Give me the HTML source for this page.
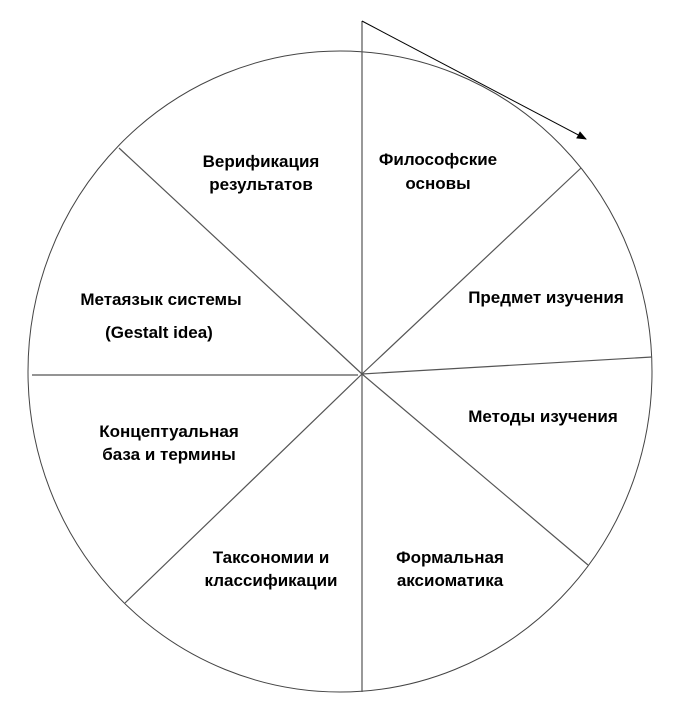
<!DOCTYPE html>
<html><head><meta charset="utf-8"><style>html,body{margin:0;padding:0;background:#fff}</style></head>
<body>
<svg width="685" height="712" xmlns="http://www.w3.org/2000/svg" style="display:block">
<defs><marker id="ah" markerWidth="10" markerHeight="8" refX="9" refY="4" orient="auto" markerUnits="userSpaceOnUse"><path d="M0,0 L10,4 L0,8 z" fill="#000"/></marker></defs>
<ellipse cx="340" cy="371.5" rx="312" ry="320.5" fill="none" stroke="#444" stroke-width="1"/>
<g stroke="#555" stroke-width="1.2" fill="none">
<line x1="362" y1="21" x2="362" y2="692"/>
<line x1="362" y1="374" x2="119" y2="148"/>
<line x1="362" y1="374" x2="581" y2="168"/>
<line x1="362" y1="374" x2="652" y2="357"/>
<line x1="358" y1="375" x2="32" y2="375"/>
<line x1="362" y1="374" x2="125" y2="603"/>
<line x1="362" y1="374" x2="588" y2="565"/>
</g>
<line x1="362" y1="21" x2="586" y2="139" stroke="#000" stroke-width="1" marker-end="url(#ah)"/>
<g font-family="Liberation Sans, Arial, sans-serif" font-weight="bold" font-size="17" text-anchor="middle" fill="#000">
<text x="261" y="167">Верификация</text>
<text x="261" y="190">результатов</text>
<text x="438" y="165">Философские</text>
<text x="438" y="189">основы</text>
<text x="546" y="303">Предмет изучения</text>
<text x="543" y="422">Методы изучения</text>
<text x="450" y="563">Формальная</text>
<text x="450" y="586">аксиоматика</text>
<text x="271" y="563">Таксономии и</text>
<text x="271" y="586">классификации</text>
<text x="169" y="437">Концептуальная</text>
<text x="169" y="460">база и термины</text>
<text x="161" y="305">Метаязык системы</text>
<text x="159" y="338">(Gestalt idea)</text>
</g>
</svg>
</body></html>
